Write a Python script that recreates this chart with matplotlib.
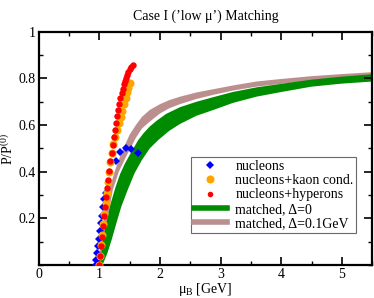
import matplotlib
matplotlib.use("Agg")
import matplotlib.pyplot as plt
from matplotlib.ticker import MultipleLocator, FixedLocator

plt.rcParams['font.family'] = ['Liberation Serif', 'DejaVu Serif']
plt.rcParams['mathtext.fontset'] = 'custom'
plt.rcParams['mathtext.rm'] = 'Liberation Serif'
plt.rcParams['mathtext.it'] = 'Liberation Serif:italic'

# nucleons (blue diamonds)
nuc_mu = [0.935, 0.95, 0.965, 0.98, 0.995, 1.01, 1.025, 1.04, 1.06, 1.08, 1.10,
          1.265, 1.337, 1.43, 1.52, 1.63]
nuc_p = [0.0, 0.02, 0.05, 0.08, 0.11, 0.145, 0.18, 0.21, 0.25, 0.285, 0.31,
         0.448, 0.486, 0.50, 0.497, 0.482]

# nucleons + kaon condensate (orange)
kaon_mu = [1.00, 1.015, 1.03, 1.045, 1.06, 1.08, 1.10, 1.12, 1.14, 1.16, 1.18,
           1.205, 1.23, 1.26, 1.29, 1.32, 1.35, 1.375, 1.40, 1.43, 1.455, 1.475, 1.50]
kaon_p = [0.0, 0.04, 0.085, 0.13, 0.175, 0.22, 0.265, 0.31, 0.355, 0.40, 0.44,
          0.48, 0.52, 0.55, 0.58, 0.61, 0.635, 0.66, 0.69, 0.715, 0.74, 0.76, 0.78]

# nucleons + hyperons (red)
hyp_mu = [0.995, 1.01, 1.02, 1.034, 1.05, 1.07, 1.089, 1.105, 1.125, 1.144, 1.16,
          1.18, 1.199, 1.215, 1.235, 1.254, 1.27, 1.29, 1.309, 1.325, 1.345, 1.364,
          1.38, 1.40, 1.42, 1.436, 1.455, 1.475, 1.50, 1.52, 1.546]
hyp_p = [0.0, 0.04, 0.08, 0.12, 0.165, 0.21, 0.25, 0.29, 0.33, 0.365, 0.405,
         0.445, 0.48, 0.515, 0.55, 0.58, 0.61, 0.64, 0.665, 0.69, 0.715, 0.737,
         0.755, 0.775, 0.79, 0.80, 0.815, 0.828, 0.84, 0.85, 0.858]

# matched, Delta=0 band (green): upper and lower edges
g_up_mu = [1.00, 1.03, 1.06, 1.10, 1.17, 1.26, 1.34, 1.42, 1.49, 1.56, 1.64, 1.73,
           1.83, 1.95, 2.10, 2.33, 2.60, 2.88, 3.20, 3.59, 4.00, 4.50, 5.00, 5.50]
g_up_p = [0.0, 0.05, 0.107, 0.165, 0.25, 0.33, 0.39, 0.435, 0.468, 0.50, 0.536, 0.566,
          0.594, 0.62, 0.648, 0.677, 0.70, 0.72, 0.742, 0.762, 0.777, 0.795, 0.808, 0.818]
g_lo_mu = [1.05, 1.13, 1.20, 1.28, 1.36, 1.47, 1.58, 1.70, 1.83, 1.97, 2.15, 2.33,
           2.60, 2.88, 3.20, 3.59, 4.00, 4.50, 5.00, 5.50]
g_lo_p = [0.0, 0.05, 0.107, 0.18, 0.25, 0.325, 0.394, 0.45, 0.50, 0.536, 0.575, 0.605,
          0.64, 0.665, 0.695, 0.722, 0.742, 0.765, 0.778, 0.787]

# matched, Delta=0.1 GeV band (brown): upper and lower edges
b_up_mu = [0.97, 1.02, 1.08, 1.16, 1.25, 1.34, 1.42, 1.50, 1.60, 1.70, 1.83, 2.00,
           2.15, 2.33, 2.60, 2.88, 3.20, 3.59, 4.00, 4.50, 5.00, 5.50]
b_up_p = [0.0, 0.10, 0.21, 0.322, 0.40, 0.465, 0.515, 0.56, 0.60, 0.635, 0.665, 0.69,
          0.707, 0.722, 0.74, 0.754, 0.77, 0.787, 0.798, 0.81, 0.819, 0.827]
b_lo_mu = [1.01, 1.07, 1.14, 1.22, 1.32, 1.44, 1.52, 1.60, 1.70, 1.83, 2.00, 2.15,
           2.33, 2.60, 2.88, 3.20, 3.59, 4.00, 4.50, 5.00, 5.50]
b_lo_p = [0.0, 0.10, 0.21, 0.322, 0.40, 0.465, 0.505, 0.545, 0.585, 0.615, 0.65, 0.672,
          0.69, 0.712, 0.73, 0.748, 0.765, 0.777, 0.79, 0.799, 0.806]

green = '#008c00'
brown = '#bc8f8f'

fig = plt.figure(figsize=(3.74, 2.98), dpi=100)
ax = fig.add_axes([0.104, 0.111, 0.891, 0.782])

ax.fill(b_up_mu + b_lo_mu[::-1], b_up_p + b_lo_p[::-1], color=brown, lw=0)
ax.fill(g_up_mu + g_lo_mu[::-1], g_up_p + g_lo_p[::-1], color=green, lw=0)

ax.plot(nuc_mu, nuc_p, 'D', color='blue', ms=4.2, mew=0, zorder=3)
ax.plot(kaon_mu, kaon_p, 'o', color='orange', ms=5.8, mew=0, zorder=4)
ax.plot(hyp_mu, hyp_p, 'o', color='red', ms=4.6, mew=0, zorder=5)

# legend handles
ax.plot([], [], 'D', color='blue', ms=4.2, mew=0, label='nucleons')
ax.plot([], [], 'o', color='orange', ms=5.8, mew=0, label='nucleons+kaon cond.')
ax.plot([], [], 'o', color='red', ms=4.0, mew=0, label='nucleons+hyperons')
ax.plot([], [], '-', color=green, lw=4, label='matched, Δ=0')
ax.plot([], [], '-', color=brown, lw=4, label='matched, Δ=0.1GeV')
h, l = ax.get_legend_handles_labels()
leg = ax.legend(h, l, loc='lower right', bbox_to_anchor=(0.953, 0.137),
                fontsize=10, frameon=True, fancybox=False, handlelength=2.4,
                handletextpad=0.6, labelspacing=0.1, borderpad=0.2,
                borderaxespad=0)
leg.get_frame().set_edgecolor('#444444')
leg.get_frame().set_linewidth(0.8)

ax.set_xlim(0, 5.5)
ax.set_ylim(0, 1)
ax.xaxis.set_major_locator(MultipleLocator(1))
ax.xaxis.set_minor_locator(MultipleLocator(0.5))
ax.yaxis.set_major_locator(FixedLocator([0.2, 0.4, 0.6, 0.8, 1.0]))
ax.yaxis.set_minor_locator(MultipleLocator(0.1))
ax.set_yticklabels(['0.2', '0.4', '0.6', '0.8', '1'])
ax.tick_params(which='both', direction='in', top=True, right=True, labelsize=10)
ax.tick_params(which='major', length=6, width=1.2, pad=2)
ax.tick_params(which='minor', length=3, width=1.0)
for s in ax.spines.values():
    s.set_linewidth(1.6)

ax.set_xlabel(r'μ$_{\rm B}$ [GeV]', fontsize=10, labelpad=0)
ax.set_ylabel(r'P/P$^{(0)}$', fontsize=10, labelpad=2)
ax.set_title('Case I (’low μ’) Matching', fontsize=10, pad=9)

fig.savefig('out.png', dpi=100)
